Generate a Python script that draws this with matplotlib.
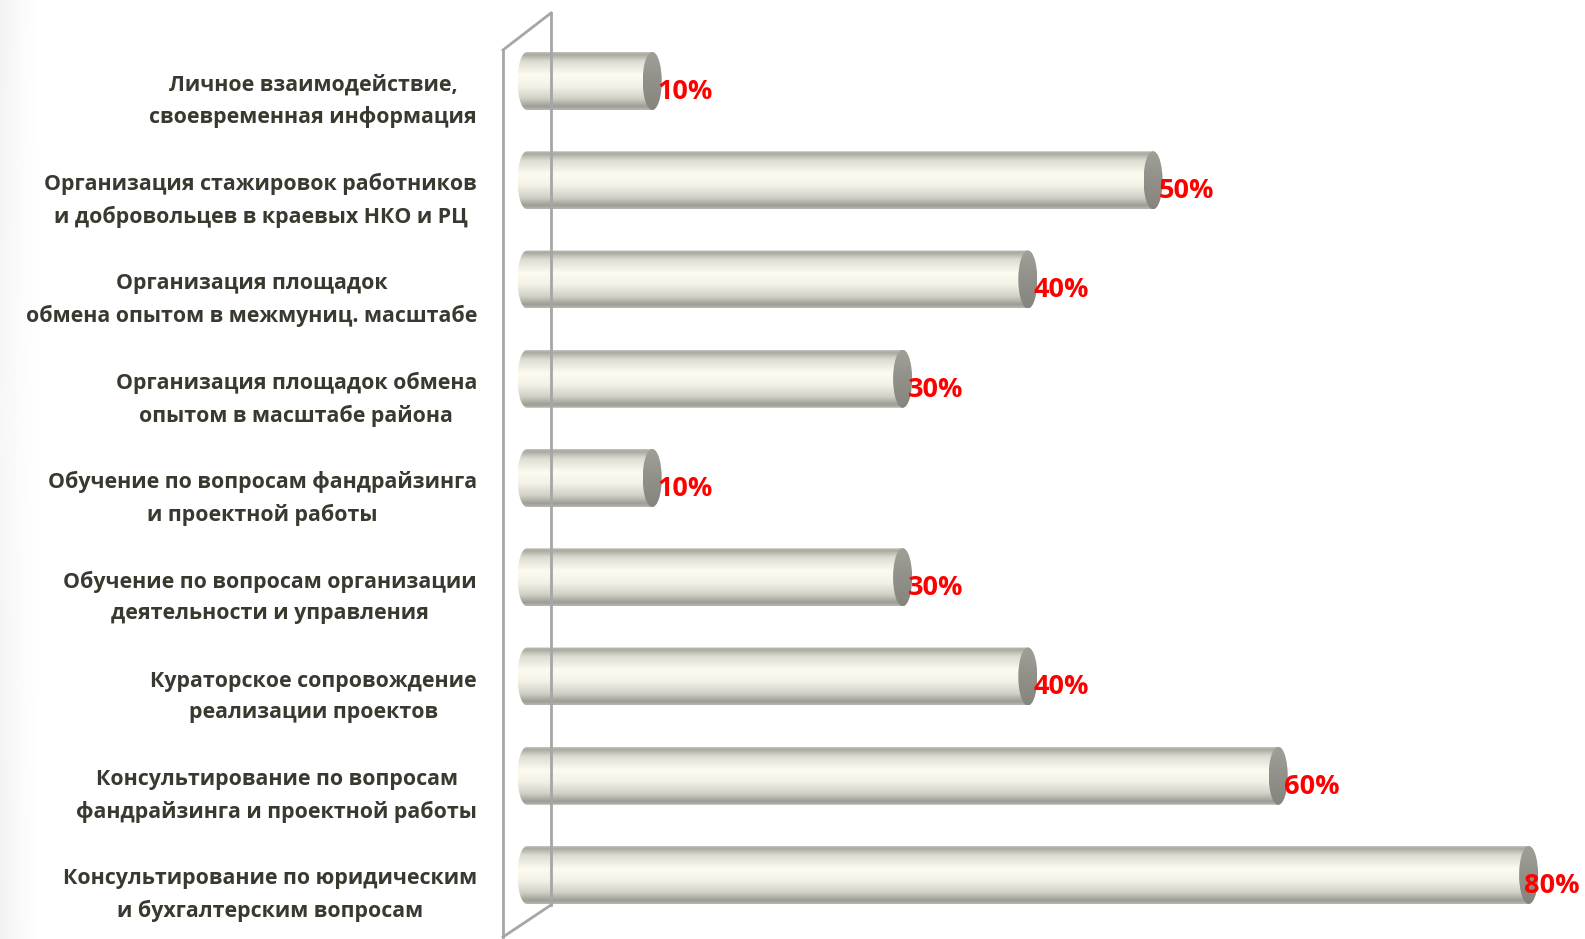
import numpy as np
import matplotlib
matplotlib.use("Agg")
import matplotlib.pyplot as plt
from matplotlib.path import Path
from matplotlib.patches import PathPatch, Ellipse
from matplotlib.colors import LinearSegmentedColormap
from matplotlib.transforms import blended_transform_factory

categories = [
    "Личное взаимодействие,\nсвоевременная информация",
    "Организация стажировок работников\nи добровольцев в краевых НКО и РЦ",
    "Организация площадок\nобмена опытом в межмуниц. масштабе",
    "Организация площадок обмена\nопытом в масштабе района",
    "Обучение по вопросам фандрайзинга\nи проектной работы",
    "Обучение по вопросам организации\nдеятельности и управления",
    "Кураторское сопровождение\nреализации проектов",
    "Консультирование по вопросам\nфандрайзинга и проектной работы",
    "Консультирование по юридическим\nи бухгалтерским вопросам",
]
values = [10, 50, 40, 30, 10, 30, 40, 60, 80]
value_labels = ["10%", "50%", "40%", "30%", "10%", "30%", "40%", "60%", "80%"]

W, H = 1585, 939
DPI = 100
fig = plt.figure(figsize=(W / DPI, H / DPI), dpi=DPI)
fig.patch.set_facecolor("white")

# subtle left background shading
bg = fig.add_axes([0, 0, 1, 1], zorder=-10)
bg.set_axis_off()
gx = np.linspace(0, 1, 600)
gy = np.linspace(0, 1, 300)
GX, GY = np.meshgrid(gx, gy)
vert = 0.6 + 0.4 * np.abs(GY - 0.45) / 0.55
shade = np.clip(1 - GX / 0.025, 0, 1) ** 1.5 * vert * 0.10
img = np.ones((300, 600, 4))
img[..., :3] = 0.5
img[..., 3] = shade
bg.imshow(img, extent=(0, 1, 0, 1), origin="upper", aspect="auto")
bg.set_xlim(0, 1)
bg.set_ylim(0, 1)

# main axes (pixel-based placement)
ax_left_px = 500
ax = fig.add_axes([ax_left_px / W, 0, 1 - ax_left_px / W, 1])
ax.set_axis_off()
x0_px = 527.0
px_per_unit = 12.52
ax.set_xlim((ax_left_px - x0_px) / px_per_unit, (W - x0_px) / px_per_unit)
top_center_px = 81.0
step_px = 99.25
ax.set_ylim((H - top_center_px) / step_px, -top_center_px / step_px)

# wall lines (figure pixel coordinates)
wall_col = "#a6a6a6"
def fl(xs, ys):
    fig.add_artist(plt.Line2D([x / W for x in xs], [1 - y / H for y in ys],
                              color=wall_col, lw=2.0, zorder=0.5))
fl([503, 503], [50, 937])
fl([503, 551], [50, 13])
fl([551, 551], [13, 905])
fl([551, 503], [905, 937])

# cylinder bars
body_cmap = LinearSegmentedColormap.from_list("body", [
    (0.00, "#c6c5bd"),
    (0.04, "#a9a89f"),
    (0.16, "#dddcd2"),
    (0.40, "#fefcf0"),
    (0.60, "#f3f1e6"),
    (0.80, "#d2d1c7"),
    (0.94, "#9e9d95"),
    (1.00, "#b8b7b0"),
])
cap_cmap = LinearSegmentedColormap.from_list("cap", [
    (0.0, "#a09f98"),
    (0.5, "#929189"),
    (1.0, "#85847d"),
])

bar_h = 58 / step_px
ell_w = 19 / px_per_unit
grad = np.linspace(0, 1, 256).reshape(-1, 1)

def half_ellipse(cx, cy, a, b, t0, t1, n=40):
    t = np.linspace(t0, t1, n)
    return np.column_stack([cx + a * np.cos(t), cy + b * np.sin(t)])

value_texts = []
for i, v in enumerate(values):
    cy = i
    a = ell_w / 2
    b = bar_h / 2
    left = half_ellipse(0, cy, a, b, np.pi / 2, 3 * np.pi / 2)
    right = half_ellipse(v, cy, a, b, -np.pi / 2, np.pi / 2)
    verts = np.vstack([left, right, left[:1]])
    codes = [Path.MOVETO] + [Path.LINETO] * (len(verts) - 2) + [Path.CLOSEPOLY]
    path = Path(verts, codes)
    patch = PathPatch(path, facecolor="none", edgecolor="none")
    ax.add_patch(patch)
    im = ax.imshow(grad, cmap=body_cmap, aspect="auto",
                   extent=(-a, v + a, cy + b, cy - b), origin="upper",
                   interpolation="bilinear", zorder=2)
    im.set_clip_path(patch)
    cap = Ellipse((v, cy), ell_w, bar_h, facecolor="none", edgecolor="none")
    ax.add_patch(cap)
    imc = ax.imshow(grad, cmap=cap_cmap, aspect="auto",
                    extent=(v - a, v + a, cy + b, cy - b), origin="upper",
                    interpolation="bilinear", zorder=3)
    imc.set_clip_path(cap)
    t = ax.text(v + 0.45, cy + 0.11, value_labels[i], color="#ff0000",
                fontsize=19.5, fontweight="bold", family="Open Sans",
                ha="left", va="center", zorder=5)
    value_texts.append(t)

# category labels
tr = blended_transform_factory(fig.transFigure, ax.transData)
for i, lab in enumerate(categories):
    ax.text(477 / W, i + 0.205, lab, transform=tr, ha="right", va="center",
            multialignment="center", fontsize=15.4, fontweight="bold",
            family="Open Sans", color="#3a3930", linespacing=1.62, clip_on=False)

# keep value labels inside the figure (shift left if they would overflow)
fig.canvas.draw()
renderer = fig.canvas.get_renderer()
limit_px = W - 5
for t in value_texts:
    bb = t.get_window_extent(renderer)
    if bb.x1 > limit_px:
        shift_px = bb.x1 - limit_px
        x, y = t.get_position()
        t.set_position((x - shift_px / px_per_unit, y))

fig.savefig("out.png", dpi=DPI)
